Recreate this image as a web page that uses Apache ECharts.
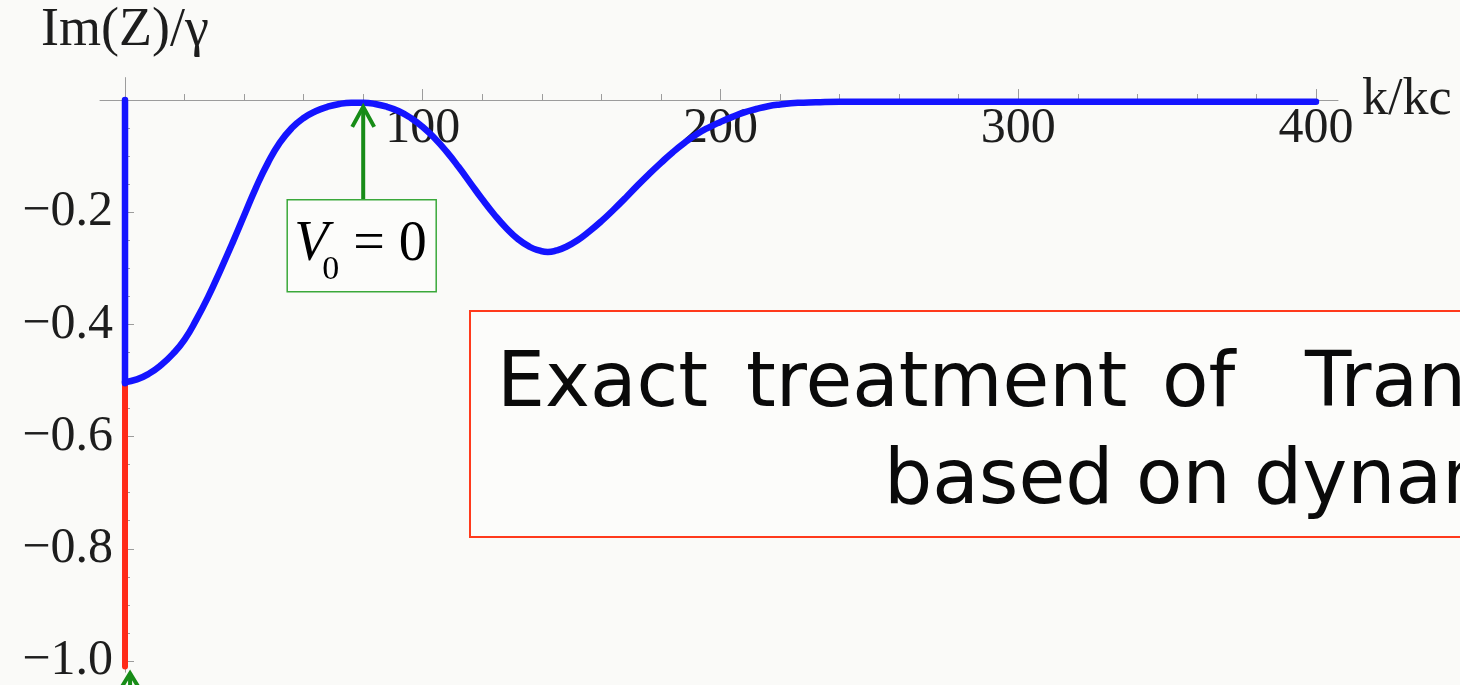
<!DOCTYPE html>
<html>
<head>
<meta charset="utf-8">
<script src="https://cdn.jsdelivr.net/npm/echarts@6/dist/echarts.min.js"></script>
<style>
  html, body { margin: 0; padding: 0; background: #fafaf8; }
  #chart { width: 1460px; height: 685px; }
</style>
</head>
<body>
<div id="chart"></div>
<script>
// Im(Z)/γ against k/kc for V0 = 0
const kValues = [0, 4, 8, 12, 16, 20, 24, 28, 32, 36, 40, 44, 48, 52, 56, 60, 64, 68, 72, 76,
  80, 84, 88, 92, 96, 100, 104, 108, 112, 116, 120, 124, 128, 132, 136, 139, 142, 145, 148, 152,
  156, 160, 164, 168, 172, 176, 180, 184, 188, 192, 196, 200, 204, 208, 212, 216, 220, 226,
  232, 240, 260, 300, 350, 400];
const imZ = [-0.503, -0.498, -0.488, -0.473, -0.453, -0.427, -0.391, -0.350, -0.304, -0.256,
  -0.206, -0.156, -0.112, -0.076, -0.050, -0.032, -0.020, -0.012, -0.007, -0.005,
  -0.005, -0.007, -0.012, -0.020, -0.032, -0.048, -0.068, -0.092, -0.119, -0.148,
  -0.177, -0.204, -0.228, -0.248, -0.262, -0.268, -0.271, -0.268, -0.262, -0.250,
  -0.234, -0.216, -0.196, -0.175, -0.153, -0.132, -0.112, -0.093, -0.076, -0.061, -0.049,
  -0.039, -0.030, -0.022, -0.016, -0.011, -0.008, -0.005,
  -0.004, -0.003, -0.003, -0.003, -0.003, -0.003];

// vertical branch at k = 0
const branchK = [0, 0];
const blueBranch = [0, -0.505];
const redBranch = [-0.505, -1.01];

// axis ticks and labels
const xLabelValues = [100, 200, 300, 400];
const xMinorValues = [20, 40, 60, 80, 120, 140, 160, 180, 220, 240, 260, 280, 320, 340, 360, 380];
const yLabelValues = [-1.0, -0.8, -0.6, -0.4, -0.2];
const yMinorValues = [-0.05, -0.1, -0.15, -0.25, -0.3, -0.35, -0.45, -0.5, -0.55, -0.65, -0.7,
  -0.75, -0.85, -0.9, -0.95];

// annotation anchors
const v0Point = [80, -0.005];
const lowerPoint = [1.7, -1.022];

const serif = "'Liberation Serif', 'Times New Roman', serif";
const axisGrey = '#9c9c9c';
const textDark = '#1d1d1d';
const blue = '#1414ff';
const red = '#ff2a18';

const toPairs = (xs, ys) => xs.map((x, i) => [x, ys[i]]);

const W = 1460, H = 685;
const gridBox = { left: 100, right: 122, top: 77.6, bottom: 12.8 };
const xRange = [-8.4, 407.4];
const yRange = [-1.02, 0.04];
const gridW = W - gridBox.left - gridBox.right;
// distance of the k = 0 line from the grid's left edge, used to shift the y label axis
const zeroFromLeft = (0 - xRange[0]) / (xRange[1] - xRange[0]) * gridW;

const chart = echarts.init(document.getElementById('chart'), null, { renderer: 'canvas' });

const baseX = { type: 'value', min: xRange[0], max: xRange[1], gridIndex: 0, splitLine: { show: false } };
const baseY = { type: 'value', min: yRange[0], max: yRange[1], gridIndex: 0, splitLine: { show: false } };

chart.setOption({
  backgroundColor: '#fafaf8',
  animation: false,
  grid: Object.assign({ outerBoundsMode: 'none', containLabel: false }, gridBox),
  xAxis: [
    Object.assign({}, baseX, {
      position: 'bottom',
      axisLine: { onZero: true, onZeroAxisIndex: 0, lineStyle: { color: axisGrey, width: 1 } },
      axisTick: { inside: true, length: 11, customValues: xLabelValues, lineStyle: { color: axisGrey } },
      axisLabel: { show: false },
      name: 'k/kc', nameLocation: 'end', nameGap: 24,
      nameTextStyle: { fontFamily: serif, fontSize: 52, color: textDark, padding: [0, 0, 10, 0] }
    }),
    Object.assign({}, baseX, {
      position: 'bottom',
      axisLine: { show: false, onZero: true, onZeroAxisIndex: 0 },
      axisTick: { inside: true, length: 6, customValues: xMinorValues, lineStyle: { color: axisGrey } },
      axisLabel: { show: false }
    })
  ],
  yAxis: [
    Object.assign({}, baseY, {
      position: 'left',
      axisLine: { onZero: true, onZeroAxisIndex: 0, lineStyle: { color: axisGrey, width: 1 } },
      axisTick: { inside: true, length: 9, customValues: yLabelValues, lineStyle: { color: axisGrey } },
      axisLabel: { show: false },
      name: 'Im(Z)/\u03b3', nameLocation: 'end', nameGap: 20,
      nameTextStyle: { fontFamily: serif, fontSize: 54, color: textDark, align: 'center' }
    }),
    Object.assign({}, baseY, {
      position: 'left',
      axisLine: { show: false, onZero: true, onZeroAxisIndex: 0 },
      axisTick: { inside: true, length: 5, customValues: yMinorValues, lineStyle: { color: axisGrey } },
      axisLabel: { show: false }
    }),
    Object.assign({}, baseY, {
      position: 'left',
      offset: -zeroFromLeft,
      axisLine: { show: false, onZero: false },
      axisTick: { show: false },
      axisLabel: {
        customValues: yLabelValues, margin: 12,
        fontFamily: serif, fontSize: 50, color: textDark,
        formatter: v => '\u2212' + Math.abs(v).toFixed(1)
      }
    })
  ],
  series: [
    {
      // k/kc tick labels hung under the zero line
      name: 'x-labels', type: 'scatter', xAxisIndex: 0, yAxisIndex: 0, silent: true,
      data: xLabelValues.map(v => [v, 0]), symbolSize: 0,
      itemStyle: { opacity: 1 },
      label: {
        show: true, position: 'bottom', distance: 4, opacity: 1,
        fontFamily: serif, fontSize: 50, color: textDark,
        formatter: p => String(p.value[0])
      },
      z: 1
    },
    {
      name: 'branch-red', type: 'line', xAxisIndex: 0, yAxisIndex: 0,
      data: toPairs(branchK, redBranch), showSymbol: false, clip: false,
      lineStyle: { color: red, width: 6, cap: 'round' }, z: 3
    },
    {
      name: 'branch-blue', type: 'line', xAxisIndex: 0, yAxisIndex: 0,
      data: toPairs(branchK, blueBranch), showSymbol: false, clip: false,
      lineStyle: { color: blue, width: 6.5, cap: 'round' }, z: 4
    },
    {
      name: 'ImZ', type: 'line', xAxisIndex: 0, yAxisIndex: 0,
      data: toPairs(kValues, imZ), showSymbol: false, clip: false,
      smooth: 0.5,
      lineStyle: { color: blue, width: 6.5, cap: 'round', join: 'round' }, z: 4
    }
  ]
});

// annotations anchored to data coordinates
const tip = chart.convertToPixel({ xAxisIndex: 0, yAxisIndex: 0 }, v0Point);
const low = chart.convertToPixel({ xAxisIndex: 0, yAxisIndex: 0 }, lowerPoint);
const green = '#178c17';
const boxGreen = '#3aa83a';
const tx = tip[0], ty = tip[1] + 3;
const boxLeft = tx - 76, boxTop = ty + 94;

const comic = "'Comic Sans MS', 'DejaVu Sans', sans-serif";
const word = (text, x, baseline) => ({
  type: 'text', x: x, y: baseline - 0.346 * 76,
  style: { text: text, fontFamily: comic, fontSize: 76, fill: '#0a0a0a', verticalAlign: 'middle', align: 'left' },
  z: 20
});

chart.setOption({
  graphic: [
    // arrow to the V0 = 0 point
    { type: 'line', shape: { x1: tx, y1: ty + 2, x2: tx, y2: boxTop }, style: { stroke: green, lineWidth: 4 }, z: 10 },
    { type: 'polyline', shape: { points: [[tx - 11, ty + 21], [tx, ty + 1], [tx + 11, ty + 21]] },
      style: { stroke: green, lineWidth: 4, fill: null }, z: 10 },
    { type: 'rect', shape: { x: boxLeft, y: boxTop, width: 149, height: 92 },
      style: { stroke: boxGreen, lineWidth: 1.5, fill: '#fcfcfa' }, z: 10 },
    { type: 'text', x: boxLeft + 7, y: boxTop + 64 - 0.34 * 56,
      style: { text: 'V', fontFamily: serif, fontStyle: 'italic', fontSize: 56, fill: '#000', verticalAlign: 'middle' }, z: 11 },
    { type: 'text', x: boxLeft + 35, y: boxTop + 82 - 0.34 * 34,
      style: { text: '0', fontFamily: serif, fontSize: 34, fill: '#000', verticalAlign: 'middle' }, z: 11 },
    { type: 'text', x: boxLeft + 66, y: boxTop + 64 - 0.34 * 56,
      style: { text: '= 0', fontFamily: serif, fontSize: 56, fill: '#000', verticalAlign: 'middle' }, z: 11 },

    // arrow at the bottom of the k = 0 branch
    { type: 'polyline', shape: { points: [[low[0] - 11, low[1] + 18], [low[0], low[1]], [low[0] + 11, low[1] + 18]] },
      style: { stroke: green, lineWidth: 4, fill: null }, z: 10 },
    { type: 'line', shape: { x1: low[0], y1: low[1], x2: low[0], y2: low[1] + 40 },
      style: { stroke: green, lineWidth: 4 }, z: 10 },

    // caption box
    { type: 'rect', shape: { x: 470, y: 311, width: 1100, height: 226 },
      style: { stroke: '#ff3a1c', lineWidth: 2, fill: '#fcfcfa' }, z: 15 },
    word('Exact', 497, 413),
    word('treatment', 746, 413),
    word('of', 1162, 413),
    word('Tran', 1305, 413),
    word('based', 884, 510),
    word('on', 1136, 510),
    word('dynam', 1254, 510)
  ]
});
</script>
</body>
</html>
